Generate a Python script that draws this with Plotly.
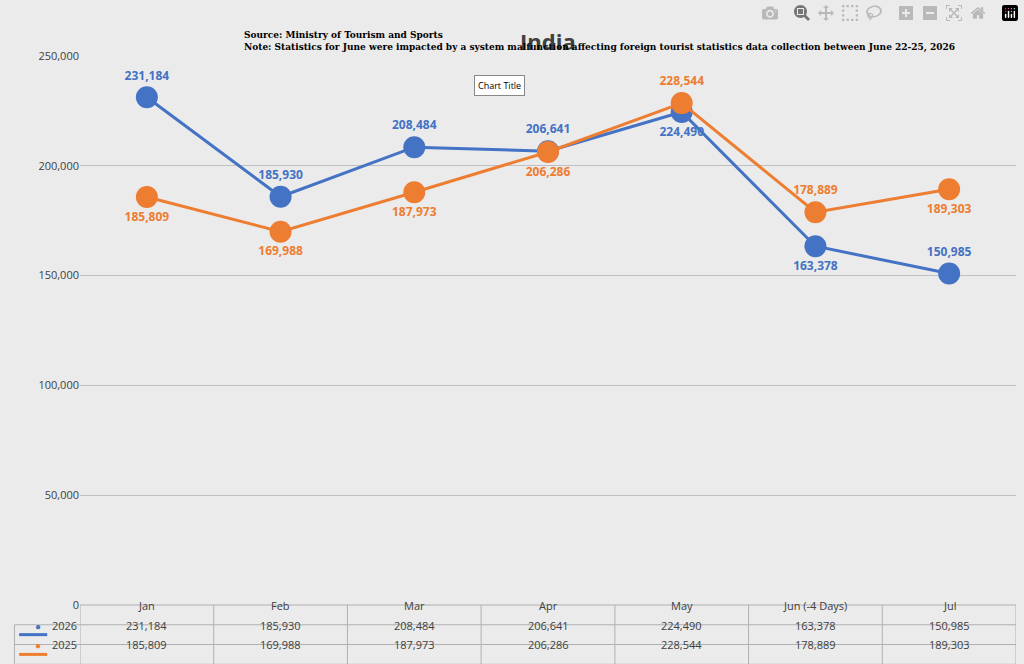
import plotly.graph_objects as go

months = ["Jan", "Feb", "Mar", "Apr", "May", "Jun (-4 Days)", "Jul"]
v2026 = [231184, 185930, 208484, 206641, 224490, 163378, 150985]
v2025 = [185809, 169988, 187973, 206286, 228544, 178889, 189303]
pos2026 = ["top center", "top center", "top center", "top center", "bottom center", "bottom center", "top center"]
pos2025 = ["bottom center", "bottom center", "bottom center", "bottom center", "top center", "top center", "bottom center"]
BLUE, ORANGE = "#4472C4", "#ED7D31"
idx = list(range(len(months)))

fig = go.Figure()
for name, vals, col, pos in [("2026", v2026, BLUE, pos2026), ("2025", v2025, ORANGE, pos2025)]:
    fig.add_trace(go.Scatter(x=idx, y=vals, mode="lines+markers+text", name=name,
        line=dict(color=col, width=3), marker=dict(size=22, color=col),
        text=[f"<b>{v:,}</b>" for v in vals], textposition=pos,
        textfont=dict(color=col, size=12, family="Open Sans"), cliponaxis=False))

shapes, ann = [], []
L = dict(color="#b0b0b0", width=1)
for y in [0, -0.036, -0.072, -0.108]:
    shapes.append(dict(type="line", xref="paper", yref="paper", x0=-0.07 if y < 0 else 0, x1=1, y0=y, y1=y, line=L))
for i in range(len(months) + 1):
    shapes.append(dict(type="line", xref="x", yref="paper", x0=i - 0.5, x1=i - 0.5, y0=0, y1=-0.11, line=L))
shapes.append(dict(type="line", xref="paper", yref="paper", x0=-0.07, x1=-0.07, y0=-0.036, y1=-0.11, line=L))
for i, m in enumerate(months):
    ann.append(dict(x=i, y=-0.018, xref="x", yref="paper", text=m, showarrow=False, font=dict(size=11, color="#404040")))
    ann.append(dict(x=i, y=-0.054, xref="x", yref="paper", text=f"{v2026[i]:,}", showarrow=False, font=dict(size=11, color="#404040")))
    ann.append(dict(x=i, y=-0.09, xref="x", yref="paper", text=f"{v2025[i]:,}", showarrow=False, font=dict(size=11, color="#404040")))
for name, yy, col in [("2026", -0.054, BLUE), ("2025", -0.09, ORANGE)]:
    shapes.append(dict(type="line", xref="paper", yref="paper", x0=-0.065, x1=-0.035, y0=yy, y1=yy, line=dict(color=col, width=3)))
    ann.append(dict(x=-0.05, y=yy, xref="paper", yref="paper", text="●", showarrow=False, font=dict(size=10, color=col)))
    ann.append(dict(x=-0.032, y=yy, xref="paper", yref="paper", xanchor="left", text=name, showarrow=False, font=dict(size=11, color="#404040")))

ann.append(dict(x=0.5, y=1.0 + 32/549, xref="paper", yref="paper", text="<b>India</b>", showarrow=False,
    font=dict(size=22, color="#404040", family="Open Sans")))
ann.append(dict(x=0.173, y=1.0 + 1/549, xref="paper", yref="paper", xanchor="left", yanchor="bottom", align="left", showarrow=False,
    text="<b>Source: Ministry of Tourism and Sports<br>Note: Statistics for June were impacted by a system malfunction affecting foreign tourist statistics data collection between June 22-25, 2026</b>",
    font=dict(family="DejaVu Serif", size=9, color="black")))
ann.append(dict(x=0.448, y=0.965, xref="paper", yref="paper", text="Chart Title", showarrow=False, bgcolor="white",
    bordercolor="#888", borderwidth=1, borderpad=3, font=dict(size=9, color="black")))

fig.update_layout(width=1024, height=664, margin=dict(l=80, r=8, t=56, b=59),
    paper_bgcolor="#ebebeb", plot_bgcolor="rgba(0,0,0,0)", showlegend=False,
    xaxis=dict(range=[-0.5, 6.5], showticklabels=False, showgrid=False, zeroline=False),
    yaxis=dict(range=[0, 250000], dtick=50000, tickformat=",", gridcolor="#c0c0c0", zeroline=False,
               tickfont=dict(size=11, color="#404040")),
    shapes=shapes, annotations=ann, font=dict(family="Open Sans"))
fig.write_html("out.html", post_script="document.body.style.margin='0';document.body.style.overflow='hidden';")
